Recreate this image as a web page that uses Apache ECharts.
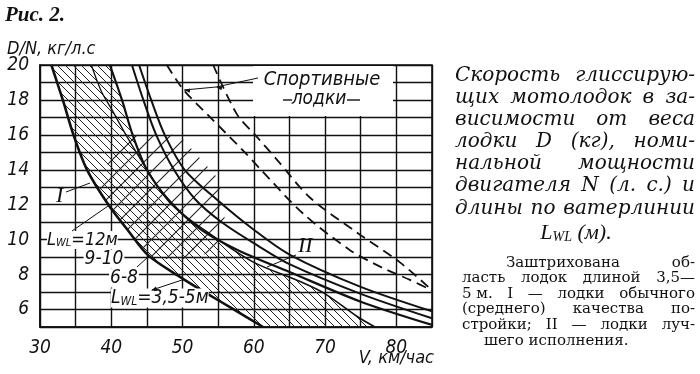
<!DOCTYPE html>
<html>
<head>
<meta charset="utf-8">
<script src="https://cdn.jsdelivr.net/npm/echarts@6.0.0/dist/echarts.min.js"></script>
<style>
html, body { margin: 0; padding: 0; background: #fff; }
#main { width: 700px; height: 374px; }
</style>
</head>
<body>
<div id="main"></div>
<script>
// V, км/час  ->  D/N, кг/л.с.
var curveA  = [[31.6,20],[33.2,18],[34.7,16],[36.6,14],[39.6,12],[42.4,10.5],[45.2,9.1],[49.9,7.8],[53.5,6.9],[57,6.05],[61.3,5]];
var curveB  = [[37.2,20],[38.6,18.5],[40,17.5],[42.2,15.9],[45,14]];
var curveH  = [[45,14],[48.5,12],[54.3,10.2],[60,8.7],[66.5,7.6],[70,6.9],[74.5,5.6],[77,5]];
var curveC1 = [[39.8,20],[41.5,18],[43,16],[45,14],[48,12.3],[52.5,10.6],[58,9.35],[65,8.15],[75,6.45],[85,5.12]];
var curveC2 = [[42.9,20],[44.5,18],[46.3,16],[48.8,14],[51.8,12.3],[55.5,11],[60.4,9.7],[65,8.6],[75,6.9],[85,5.5]];
var curveC3 = [[43.9,20],[45.6,18],[47.5,16],[50.3,14],[54.8,12.3],[59.9,10.6],[65,9.15],[75,7.3],[85,5.9]];
// спортивные лодки
var sport1 = [[47.8,20],[50.1,18.6],[53.9,17],[58.5,15.1],[61,14],[66.9,11.5],[73.5,9.4],[78,8.4],[81.9,7.7],[85,7.1]];
var sport2 = [[54.3,20],[57.6,17.2],[60.4,15.9],[63.2,14.6],[67.9,12.4],[74.5,10.4],[80.5,8.7],[85,7.1]];
// заштрихованные области
var c1Top = [[39.8,20],[41.5,18],[43,16],[45,14]];
var hatchArea = curveA.concat(curveH.slice().reverse(), c1Top.slice().reverse());
var crossArea = [[41.5,16],[49.5,16],[55,13.5],[56,11],[54.5,9.3],[49,8.8],[45.2,9.1],[42.4,10.5],[39.6,12],[38.5,12.8],[40,15]];

var sansIt = "'Liberation Sans Narrow','DejaVu Sans Condensed','DejaVu Sans',sans-serif";
var serif = "'DejaVu Serif','Liberation Serif',serif";
var serif2 = "'Liberation Serif','DejaVu Serif',serif";
var ink = '#111';

function makeHatch(size, dir, w) {
    var c = document.createElement('canvas');
    c.width = size; c.height = size;
    var g = c.getContext('2d');
    g.strokeStyle = '#222';
    g.lineWidth = w;
    g.beginPath();
    if (dir > 0) {
        g.moveTo(-1, -1); g.lineTo(size + 1, size + 1);
        g.moveTo(-1, size - 1); g.lineTo(1, size + 1);
        g.moveTo(size - 1, -1); g.lineTo(size + 1, 1);
    } else {
        g.moveTo(-1, size + 1); g.lineTo(size + 1, -1);
        g.moveTo(-1, 1); g.lineTo(1, -1);
        g.moveTo(size - 1, size + 1); g.lineTo(size + 1, size - 1);
    }
    g.stroke();
    return c;
}
var hatchFill = { image: makeHatch(8, 1, 1), repeat: 'repeat' };
var crossFill = { image: makeHatch(17, -1, 1.1), repeat: 'repeat' };

function areaSeries(poly, fill) {
    return {
        type: 'custom', coordinateSystem: 'cartesian2d', silent: true, clip: true, z: 1,
        data: [[30, 5]],
        renderItem: function (params, api) {
            return {
                type: 'polygon',
                shape: { points: poly.map(function (p) { return api.coord(p); }) },
                style: { fill: fill, stroke: 'none' }
            };
        }
    };
}
function lineSeries(data, w, dashed) {
    return {
        type: 'line', data: data, smooth: 0.3, symbol: 'none', silent: true, z: 3,
        lineStyle: { color: ink, width: w, type: dashed ? [10, 6] : 'solid' }
    };
}

// justified text
var mctx = document.createElement('canvas').getContext('2d');
function textLine(words, x0, x1, y, font, justify) {
    mctx.font = font;
    var ws = words.map(function (w) { return mctx.measureText(w).width; });
    var sum = ws.reduce(function (a, b) { return a + b; }, 0);
    var gap = (justify && words.length > 1) ? (x1 - x0 - sum) / (words.length - 1) : mctx.measureText(' ').width;
    var x = x0, out = [];
    words.forEach(function (w, i) {
        out.push({ type: 'text', x: x, y: y, silent: true,
            style: { text: w, font: font, fill: ink, textVerticalAlign: 'middle', verticalAlign: 'middle' } });
        x += ws[i] + gap;
    });
    return out;
}
function txt(x, y, s, font, align, bg) {
    return { type: 'text', x: x, y: y, z: 10, silent: true,
        style: { text: s, font: font, fill: ink, textAlign: align || 'left', align: align || 'left',
                 textVerticalAlign: 'middle', verticalAlign: 'middle',
                 backgroundColor: bg || null, padding: bg ? [0, 1] : 0 } };
}
function lwl(x, y, rest, size) {
    return { type: 'text', x: x, y: y, z: 10, silent: true,
        style: {
            text: '{a|L}{s|WL}{a|' + rest + '}', fill: ink, backgroundColor: '#fff',
            textVerticalAlign: 'middle', verticalAlign: 'middle',
            rich: {
                a: { fontSize: size, fontStyle: 'italic', fontFamily: sansIt, fill: ink, color: ink },
                s: { fontSize: Math.round(size * 0.62), fontStyle: 'italic', fontFamily: sansIt, fill: ink, color: ink, verticalAlign: 'bottom' }
            }
        } };
}
function seg(pts, w) {
    return { type: 'polyline', z: 10, silent: true, shape: { points: pts }, style: { stroke: ink, lineWidth: w || 1, fill: null } };
}
function arrowHead(x, y, ang) {
    var l = 6, s = 2.2, ca = Math.cos(ang), sa = Math.sin(ang);
    return { type: 'polygon', z: 10, silent: true,
        shape: { points: [[x, y], [x - l * ca - s * sa, y - l * sa + s * ca], [x - l * ca + s * sa, y - l * sa - s * ca]] },
        style: { fill: ink } };
}

var bigFont = 'italic 20px ' + serif;
var smallFont = '15px ' + serif;
var graphics = [];
graphics.push(txt(5, 16, 'Рис. 2.', 'italic bold 21px ' + serif2));
graphics.push(txt(7, 49, 'D/N, кг/л.с', 'italic 18px ' + sansIt));
graphics.push(txt(434, 358, 'V, км/час', 'italic 18px ' + sansIt, 'right'));

var L = 455, R = 695;
[[['Скорость', 'глиссирую-'], 76],
 [['щих', 'мотолодок', 'в', 'за-'], 98],
 [['висимости', 'от', 'веса'], 120],
 [['лодки', 'D', '(кг),', 'номи-'], 142],
 [['нальной', 'мощности'], 164],
 [['двигателя', 'N', '(л.', 'с.)', 'и'], 186],
 [['длины', 'по', 'ватерлинии'], 209]].forEach(function (r) {
    graphics = graphics.concat(textLine(r[0], L, R, r[1], bigFont, true));
});
graphics.push({ type: 'text', x: 576, y: 233, silent: true,
    style: { text: '{a|L}{s|WL}{a| (м).}', textAlign: 'center', align: 'center', textVerticalAlign: 'middle', verticalAlign: 'middle',
        rich: { a: { fontSize: 22, fontStyle: 'italic', fontFamily: serif2, fill: ink, color: ink },
                s: { fontSize: 14, fontStyle: 'italic', fontFamily: serif2, fill: ink, color: ink, verticalAlign: 'bottom' } } } });

var l2 = 462;
[[['Заштрихована', 'об-'], 506, 263, true],
 [['ласть', 'лодок', 'длиной', '3,5—'], l2, 278, true],
 [['5 м.', 'I', '—', 'лодки', 'обычного'], l2, 294, true],
 [['(среднего)', 'качества', 'по-'], l2, 309, true],
 [['стройки;', 'II', '—', 'лодки', 'луч-'], l2, 325, true],
 [['шего', 'исполнения.'], 484, 341, false]].forEach(function (r) {
    graphics = graphics.concat(textLine(r[0], r[1], R, r[2], smallFont, r[3]));
});

// sport boats label
graphics.push({ type: 'rect', z: 9, silent: true, shape: { x: 253, y: 66, width: 140, height: 50 }, style: { fill: '#fff' } });
graphics.push(txt(322, 80, 'Спортивные', 'italic 20px ' + sansIt, 'center'));
graphics.push(txt(319, 99, 'лодки', 'italic 19px ' + sansIt, 'center'));
graphics.push(seg([[283, 100], [292, 100]], 1.4));
graphics.push(seg([[347, 100], [360, 100]], 1.4));
graphics.push(seg([[258, 78], [216, 87], [184, 90]], 1));
graphics.push(arrowHead(216, 87, Math.PI + 0.2));
graphics.push(arrowHead(184, 90, Math.PI + 0.1));

// curve labels
graphics.push(txt(56, 196, 'I', 'italic 22px ' + serif2));
graphics.push(seg([[66, 192], [90, 183]]));
graphics.push(lwl(47, 240, '=12м', 18));
graphics.push(seg([[72, 231], [108, 206]]));
graphics.push(txt(104, 259, '9-10', 'italic 19px ' + sansIt, 'center', '#fff'));
graphics.push(txt(124, 278, '6-8', 'italic 19px ' + sansIt, 'center', '#fff'));
graphics.push(seg([[137, 267], [148, 257]]));
graphics.push(lwl(111, 298, '=3,5-5м', 19));
graphics.push(seg([[182, 280], [152, 290]]));
graphics.push(arrowHead(151, 290.5, Math.PI - 0.32));
graphics.push(txt(298, 246, 'II', 'italic 22px ' + serif2));
graphics.push(seg([[296, 255], [267, 267]]));

var chart = echarts.init(document.getElementById('main'), null, { renderer: 'canvas' });
chart.setOption({
    backgroundColor: '#fff',
    animation: false,
    grid: { left: 40, right: 268, top: 65, bottom: 47, show: true, borderColor: ink, borderWidth: 1.6, backgroundColor: 'transparent' },
    xAxis: {
        type: 'value', min: 30, max: 85, interval: 5,
        axisLine: { show: true, lineStyle: { color: ink, width: 1.6 } },
        axisTick: { show: false },
        splitLine: { show: true, lineStyle: { color: ink, width: 1.4 } },
        axisLabel: { margin: 12, color: ink, fontSize: 19, fontStyle: 'italic', fontFamily: sansIt,
            formatter: function (v) { return (v % 10 === 0 && v < 85) ? String(v) : ''; } }
    },
    yAxis: {
        type: 'value', min: 5, max: 20, interval: 1,
        axisLine: { show: true, lineStyle: { color: ink, width: 1.6 } },
        axisTick: { show: false },
        splitLine: { show: true, lineStyle: { color: ink, width: 1.4 } },
        axisLabel: { margin: 11, color: ink, fontSize: 19, fontStyle: 'italic', fontFamily: sansIt,
            formatter: function (v) { return (v % 2 === 0) ? String(v) : ''; } }
    },
    series: [
        areaSeries(hatchArea, hatchFill),
        areaSeries(crossArea, crossFill),
        lineSeries(curveA, 2.6),
        lineSeries(curveB, 1.3),
        lineSeries(curveH, 1.6),
        lineSeries(curveC1, 2.2),
        lineSeries(curveC2, 2),
        lineSeries(curveC3, 2),
        lineSeries(sport1, 1.8, true),
        lineSeries(sport2, 1.8, true)
    ],
    graphic: graphics
});
</script>
</body>
</html>
